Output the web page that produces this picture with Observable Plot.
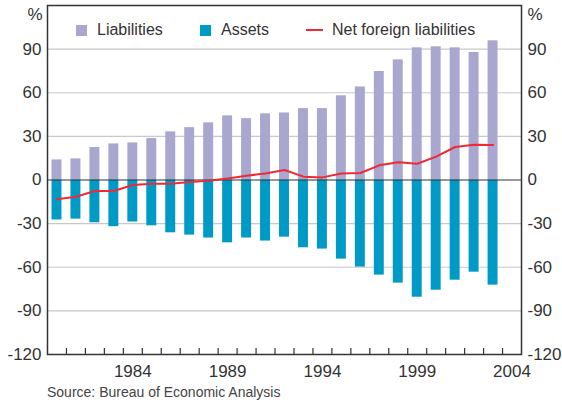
<!DOCTYPE html>
<html>
<head>
<meta charset="utf-8">
<script src="https://cdn.jsdelivr.net/npm/d3@7"></script>
<script src="https://cdn.jsdelivr.net/npm/@observablehq/plot@0.6"></script>
<style>
  html, body { margin: 0; padding: 0; background: #fff; }
  #wrap { position: relative; width: 562px; height: 404px; font-family: "Liberation Sans", Arial, sans-serif; color: #333; }
  .leg { position: absolute; top: 21px; font-size: 16px; line-height: 18px; display: flex; align-items: center; color: #333; }
  .sw { width: 11px; height: 11px; margin-right: 10px; }
  .ln { width: 17px; height: 1.5px; margin-right: 9px; }
  #src { position: absolute; left: 47px; top: 384px; font-size: 14px; color: #444; }
</style>
</head>
<body>
<div id="wrap">
  <div id="chart"></div>
  <div class="leg" style="left:76px"><div class="sw" style="background:#a9a6cf"></div>Liabilities</div>
  <div class="leg" style="left:200px"><div class="sw" style="background:#009ac6"></div>Assets</div>
  <div class="leg" style="left:306px"><div class="ln" style="background:#ee2a35"></div>Net foreign liabilities</div>
  <div id="src">Source: Bureau of Economic Analysis</div>
</div>
<script>
const years = [1980,1981,1982,1983,1984,1985,1986,1987,1988,1989,1990,1991,1992,1993,1994,1995,1996,1997,1998,1999,2000,2001,2002,2003];
const liabilities = [13.8,14.5,22.3,24.8,25.5,28.5,33.1,36.0,39.3,44.1,42.2,45.5,46.1,49.1,49.1,57.9,64.0,74.6,82.6,90.9,91.6,90.9,87.7,95.7];
const assets = [-27.5,-26.9,-29.4,-32.1,-28.9,-31.5,-36.3,-37.9,-39.9,-43.2,-39.9,-42.0,-39.3,-46.6,-47.5,-54.4,-59.9,-65.4,-70.9,-80.6,-75.8,-68.9,-63.4,-72.3];
const netLiabilities = [-13.3,-11.5,-7.6,-7.6,-3.4,-2.5,-2.5,-1.4,-0.5,1.1,3.0,4.4,6.9,2.3,1.8,4.4,4.8,10.1,12.2,11.2,16.1,22.7,24.3,24.1];
const yTicks = [-120,-90,-60,-30,0,30,60,90];
const gridTicks = [-90,-60,-30,30,60,90];
const xLabelTicks = [1984,1989,1994,1999,2004];
const xBoundaryTicks = [1980.5,1981.5,1982.5,1983.5,1984.5,1985.5,1986.5,1987.5,1988.5,1989.5,1990.5,1991.5,1992.5,1993.5,1994.5,1995.5,1996.5,1997.5,1998.5,1999.5,2000.5,2001.5,2002.5,2003.5];

const data = years.map((year, i) => ({year, liab: liabilities[i], asset: assets[i], net: netLiabilities[i]}));

const font = "Liberation Sans, Arial, sans-serif";
const chart = Plot.plot({
  width: 562,
  height: 384,
  marginLeft: 47,
  marginRight: 41,
  marginTop: 5,
  marginBottom: 30,
  style: {fontFamily: font, fontSize: "17px", color: "#333", background: "transparent"},
  x: {domain: [1979.5, 2004.5]},
  y: {domain: [-120, 120]},
  marks: [
    Plot.ruleY(gridTicks, {stroke: "#c8c8c8", strokeWidth: 1.2}),
    Plot.rect(data, {x1: d => d.year - 0.5, x2: d => d.year + 0.5, y1: 0, y2: "liab", fill: "#a9a6cf", insetLeft: 4.5, insetRight: 4.5}),
    Plot.rect(data, {x1: d => d.year - 0.5, x2: d => d.year + 0.5, y1: 0, y2: "asset", fill: "#009ac6", insetLeft: 4.5, insetRight: 4.5}),
    Plot.ruleY([0], {stroke: "#333", strokeWidth: 1.2}),
    Plot.lineY(data, {x: "year", y: "net", stroke: "#ee2a35", strokeWidth: 2}),
    Plot.frame({stroke: "#333", strokeWidth: 1.5}),
    Plot.axisY(yTicks, {anchor: "left", tickSize: 0, tickPadding: 6, tickFormat: d => String(d), label: null, fontSize: 17, fill: "#333"}),
    Plot.axisY(yTicks, {anchor: "right", tickSize: 0, tickPadding: 6, tickFormat: d => String(d), label: null, fontSize: 17, fill: "#333"}),
    Plot.axisX(xBoundaryTicks, {anchor: "bottom", tickSize: -6, text: null, label: null, stroke: "#333", strokeWidth: 1.2}),
    Plot.axisX(xLabelTicks, {anchor: "bottom", tickSize: 0, tickPadding: 10, tickFormat: d => String(d), label: null, fontSize: 17, fill: "#333"}),
    Plot.text(["%"], {frameAnchor: "top-left", text: d => d, textAnchor: "end", lineAnchor: "top", dx: -5, dy: 2, fontSize: 17, fill: "#333"}),
    Plot.text(["%"], {frameAnchor: "top-right", text: d => d, textAnchor: "start", lineAnchor: "top", dx: 6, dy: 2, fontSize: 17, fill: "#333"})
  ]
});
document.getElementById("chart").appendChild(chart);
</script>
</body>
</html>
